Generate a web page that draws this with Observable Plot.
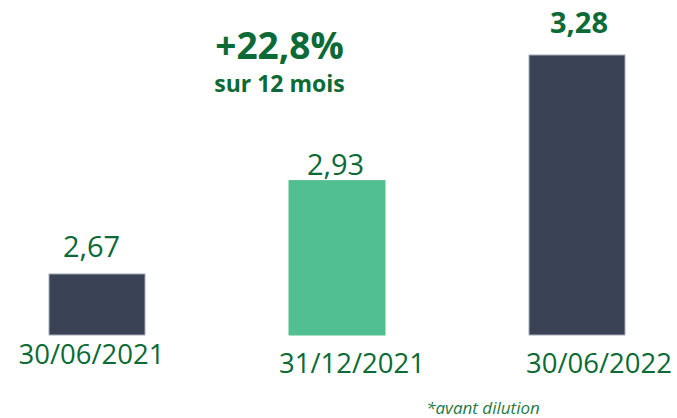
<!DOCTYPE html>
<html>
<head>
<meta charset="utf-8">
<script src="https://cdn.jsdelivr.net/npm/d3@7"></script>
<script src="https://cdn.jsdelivr.net/npm/@observablehq/plot@0.6"></script>
<style>
  html, body { margin: 0; padding: 0; background: #fff; }
  #chart svg { display: block; }
</style>
</head>
<body>
<div id="chart"></div>
<script>
// ---- data ----
const dates = ["30/06/2021", "31/12/2021", "30/06/2022"];
const values = [2.67, 2.93, 3.28];
const valueLabels = ["2,67", "2,93", "3,28"];
const barColors = ["#3a4356", "#52bf90", "#3a4356"];
const barEdges = ["#a6abb8", "#52bf90", "#a6abb8"];
const yBase = 2.5;
const headline = "+22,8%";
const subline = "sur 12 mois";
const footnote = "*avant dilution";

const green = "#0b6a36";
const font = "Open Sans";

const rows = dates.map((d, i) => ({date: d, value: values[i], label: valueLabels[i], fill: barColors[i], edge: barEdges[i]}));

const valueLabel = (i, dx, dy, weight) => Plot.text([rows[i]], {
  x: "date", y: "value", text: "label", lineAnchor: "bottom",
  dx, dy, fontSize: 29, fontWeight: weight, fill: green, fontFamily: font
});
const dateLabel = (i, dx, dy) => Plot.text([rows[i]], {
  x: "date", y: () => yBase, text: "date", lineAnchor: "bottom",
  dx, dy, fontSize: 27.5, fill: green, fontFamily: font
});

const chart = Plot.plot({
  width: 677,
  height: 418,
  marginLeft: 49,
  marginRight: 52,
  marginTop: 55,
  marginBottom: 83,
  style: {fontFamily: font, background: "#fff"},
  x: {domain: dates, paddingInner: 0.6, paddingOuter: 0, axis: null},
  y: {domain: [yBase, values[2]], axis: null},
  color: {type: "identity"},
  marks: [
    Plot.barY(rows, {x: "date", y1: () => yBase, y2: "value", fill: "fill", stroke: "edge", strokeWidth: 1}),
    valueLabel(0, -6, -17, 400),
    valueLabel(1, -2, -6, 400),
    valueLabel(2, 1.5, -23, 700),
    dateLabel(0, -6, 28),
    dateLabel(1, 14.5, 37),
    dateLabel(2, 21.5, 37),
    Plot.text([headline], {x: () => dates[1], frameAnchor: "top", lineAnchor: "bottom", dx: -58, dy: 3,
      text: d => d, fontSize: 37, fontWeight: 700, fill: green, fontFamily: font}),
    Plot.text([subline], {x: () => dates[1], frameAnchor: "top", lineAnchor: "bottom", dx: -58, dy: 36,
      text: d => d, fontSize: 23, fontWeight: 700, fill: green, fontFamily: font}),
    Plot.text([footnote], {x: () => dates[2], frameAnchor: "bottom", lineAnchor: "bottom", dx: -94.5, dy: 78,
      text: d => d, fontSize: 17, fontStyle: "italic", fill: "#1f7a45", fontFamily: font})
  ]
});
document.getElementById("chart").appendChild(chart);
</script>
</body>
</html>
